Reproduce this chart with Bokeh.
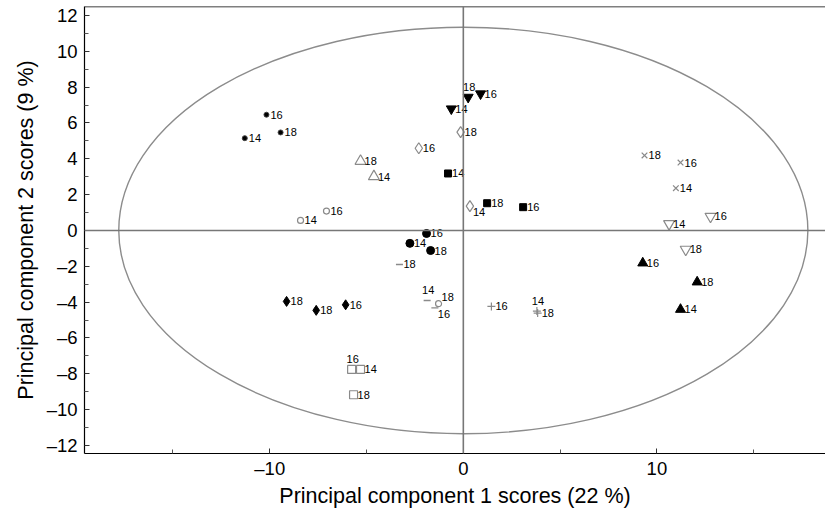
from bokeh.plotting import figure
from bokeh.models import Range1d, Span, FixedTicker, ColumnDataSource
from bokeh.embed import file_html
from bokeh.resources import INLINE
from bokeh.core.properties import value

# ---------------- data ----------------
groups = ["dot", "dot", "dot",
          "otri", "otri",
          "odia", "odia", "odia",
          "ocirc", "ocirc", "ocirc",
          "fcirc", "fcirc", "fcirc",
          "fsq", "fsq", "fsq",
          "fitri", "fitri", "fitri",
          "xm", "xm", "xm",
          "oitri", "oitri", "oitri",
          "ftri", "ftri", "ftri",
          "cross", "cross", "cross",
          "dash", "dash", "dash",
          "fdia", "fdia", "fdia",
          "osq", "osq", "osq"]
ages = ["14", "16", "18",
        "18", "14",
        "16", "18", "14",
        "14", "16", "18",
        "16", "14", "18",
        "14", "18", "16",
        "18", "16", "14",
        "18", "16", "14",
        "14", "16", "18",
        "16", "18", "14",
        "16", "14", "18",
        "18", "14", "16",
        "18", "18", "16",
        "16", "14", "18"]
pc1 = [-11.29, -10.17, -9.44,
       -5.31, -4.62,
       -2.30, -0.14, 0.34,
       -8.41, -7.07, -1.28,
       -1.90, -2.76, -1.69,
       -0.79, 1.23, 3.09,
       0.25, 0.89, -0.62,
       9.36, 11.22, 10.98,
       10.63, 12.77, 11.49,
       9.27, 12.08, 11.22,
       1.45, 3.80, 3.84,
       -3.30, -1.87, -1.47,
       -9.13, -7.60, -6.08,
       -5.77, -5.31, -5.67]
pc2 = [5.15, 6.46, 5.47,
       3.87, 3.01,
       4.59, 5.49, 1.36,
       0.56, 1.08, -4.09,
       -0.17, -0.72, -1.12,
       3.18, 1.52, 1.30,
       7.44, 7.63, 6.79,
       4.19, 3.79, 2.36,
       0.37, 0.78, -1.06,
       -1.82, -2.88, -4.41,
       -4.24, -4.50, -4.61,
       -1.90, -3.91, -4.32,
       -3.96, -4.46, -4.15,
       -7.76, -7.76, -9.17]

x_ticks = [-10, 0, 10]
x_minor_ticks = [-15, -5, 5, 15]
y_ticks = list(range(-12, 13, 2))
y_minor_ticks = list(range(-11, 12, 2))

# confidence ellipse semi-axes (data units)
ellipse_a = 17.8
ellipse_b = 11.35

# ---------------- styles ----------------
# label placement per point: r = right, a = above, ar = above-right, br = below-right
label_place = ["r", "r", "r",
               "r", "r",
               "r", "r", "br",
               "r", "r", "ar",
               "r", "r", "r",
               "r", "r", "r",
               "a", "r", "r",
               "r", "r", "r",
               "r", "r", "r",
               "r", "r", "r",
               "r", "a", "r",
               "r", "a", "br",
               "r", "r", "r",
               "a", "r", "r"]
place_offsets = {"r": (4, 0, "left"), "a": (1, -10, "center"),
                 "ar": (3, -7, "left"), "br": (3, 6, "left")}

GREY = "#8a8a8a"
marker_style = {
    "dot":   dict(marker="circle", size=5, fill_color="black", line_color="#444"),
    "otri":  dict(marker="triangle", size=11, fill_color=None, line_color=GREY, line_width=1.2),
    "odia":  dict(marker="diamond", size=11, fill_color=None, line_color=GREY, line_width=1.2),
    "ocirc": dict(marker="circle", size=6, fill_color=None, line_color=GREY, line_width=1.2),
    "fcirc": dict(marker="circle", size=8, fill_color="black", line_color="black"),
    "fsq":   dict(marker="square", size=7, fill_color="black", line_color="black"),
    "fitri": dict(marker="inverted_triangle", size=10, fill_color="black", line_color="black"),
    "xm":    dict(marker="x", size=8, fill_color=None, line_color=GREY, line_width=1.2),
    "oitri": dict(marker="inverted_triangle", size=11, fill_color=None, line_color=GREY, line_width=1.2),
    "ftri":  dict(marker="triangle", size=10, fill_color="black", line_color="black"),
    "cross": dict(marker="cross", size=8, fill_color=None, line_color=GREY, line_width=1.2),
    "dash":  dict(marker="dash", size=7, fill_color=None, line_color=GREY, line_width=1.4),
    "fdia":  dict(marker="diamond", size=10, fill_color="black", line_color="black"),
    "osq":   dict(marker="square", size=8, fill_color=None, line_color=GREY, line_width=1.2),
}

FONT = "Liberation Sans"

p = figure(frame_width=741, frame_height=447,
           x_range=Range1d(-19.57, 18.71), y_range=Range1d(-12.45, 12.5),
           output_backend="svg", toolbar_location=None,
           min_border_left=84, min_border_right=0, min_border_top=6, min_border_bottom=54)
p.outline_line_color = None
p.grid.visible = False
p.background_fill_color = "white"

# axes
p.xaxis.ticker = FixedTicker(ticks=x_ticks, minor_ticks=x_minor_ticks)
p.yaxis.ticker = FixedTicker(ticks=y_ticks, minor_ticks=y_minor_ticks)
p.xaxis.major_label_overrides = {t: (str(t).replace("-", "\u2013")) for t in x_ticks}
p.yaxis.major_label_overrides = {t: (str(t).replace("-", "\u2013")) for t in y_ticks}
for ax in (p.xaxis[0], p.yaxis[0]):
    ax.axis_line_color = "black"
    ax.axis_line_width = 1.2
    ax.major_tick_in = 5
    ax.major_tick_out = 0
    ax.minor_tick_in = 4
    ax.minor_tick_out = 0
    ax.major_tick_line_color = "#333"
    ax.minor_tick_line_color = "#555"
    ax.major_label_text_font = FONT
    ax.major_label_text_font_size = "18.5px"
    ax.major_label_text_color = "black"
    ax.axis_label_text_font = FONT
    ax.axis_label_text_font_style = "normal"
    ax.axis_label_text_color = "black"
    ax.axis_label_text_font_size = "21.5px"
p.xaxis.axis_label = "Principal component 1 scores (22 %)"
p.yaxis.axis_label = "Principal component 2 scores (9 %)"
p.yaxis.major_label_standoff = 7
p.xaxis.major_label_standoff = 4
p.xaxis.axis_label_standoff = 2
p.yaxis.axis_label_standoff = 6

# frame top edge
p.add_layout(Span(location=12.5, dimension="width", line_color="black", line_width=1.5))
# zero lines
p.add_layout(Span(location=0, dimension="width", line_color="#777", line_width=1.6))
p.add_layout(Span(location=0, dimension="height", line_color="#777", line_width=1.6))

# ellipse
p.ellipse(x=[0], y=[0], width=[2 * ellipse_a], height=[2 * ellipse_b],
          fill_color=None, line_color="#8c8c8c", line_width=1.4)

# markers
for g, st in marker_style.items():
    idx = [i for i, gg in enumerate(groups) if gg == g]
    src = ColumnDataSource(dict(x=[pc1[i] for i in idx], y=[pc2[i] for i in idx]))
    p.scatter("x", "y", source=src, **st)

# labels
for code, (dx, dy, align) in place_offsets.items():
    idx = [i for i, c in enumerate(label_place) if c == code]
    if not idx:
        continue
    src = ColumnDataSource(dict(x=[pc1[i] for i in idx], y=[pc2[i] for i in idx],
                                t=[ages[i] for i in idx]))
    p.text("x", "y", text="t", source=src, x_offset=dx, y_offset=dy,
           text_align=align, text_baseline="middle", text_font=value(FONT),
           text_font_size="11px", text_color="black")

open("out.html", "w").write(file_html(p, INLINE))
